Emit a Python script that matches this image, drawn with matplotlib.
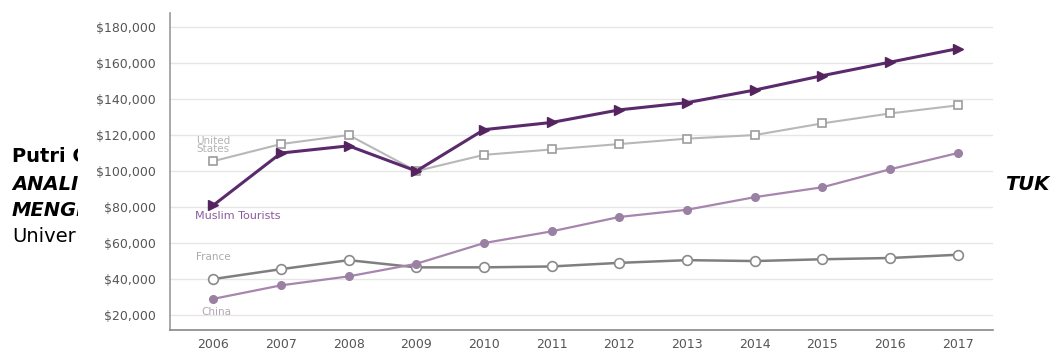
import matplotlib
matplotlib.use("Agg")
import matplotlib.pyplot as plt
from matplotlib.patches import Rectangle

years = [2006, 2007, 2008, 2009, 2010, 2011, 2012, 2013, 2014, 2015, 2016, 2017]
muslim = [81000, 110000, 114000, 100000, 123000, 127000, 134000, 138000, 145000, 153000, 160500, 168000]
usa = [105500, 115000, 120000, 100000, 109000, 112000, 115000, 118000, 120000, 126500, 132000, 136500]
france = [40000, 45500, 50500, 46500, 46500, 47000, 49000, 50500, 50000, 51000, 51700, 53500]
china = [29000, 36500, 41500, 48500, 60000, 66500, 74500, 78500, 85500, 91000, 101000, 110000]
yticks = [20000, 40000, 60000, 80000, 100000, 120000, 140000, 160000, 180000]

W, H = 1053, 353
fig = plt.figure(figsize=(W / 100, H / 100), dpi=100)

# document text lying behind the chart image
doc = dict(color="black", fontsize=14, zorder=1)
fig.text(12 / W, 1 - 157 / H, "Putri C", weight="bold", va="center", **doc)
fig.text(12 / W, 1 - 185 / H, "ANALIS", weight="bold", style="italic", va="center", **doc)
fig.text(12 / W, 1 - 211 / H, "MENGI", weight="bold", style="italic", va="center", **doc)
fig.text(12 / W, 1 - 237 / H, "Univer", va="center", **doc)
fig.text(1005 / W, 1 - 184 / H, "TUK", weight="bold", style="italic", va="center", **doc)

# white background of the pasted chart
fig.patches.append(Rectangle((78 / W, 0), 922 / W, 1, transform=fig.transFigure,
                             facecolor="white", edgecolor="none", zorder=2))

ax = fig.add_axes([170 / W, 23 / H, 823 / W, 317 / H])
ax.set_zorder(3)
ax.patch.set_alpha(0)

ax.plot(years, usa, color="#b8b8b8", lw=1.5, marker="s", ms=6,
        mfc="white", mec="#9c9c9c", mew=1.2, zorder=3)
ax.plot(years, france, color="#7f7f7f", lw=1.8, marker="o", ms=7,
        mfc="white", mec="#8a8a8a", mew=1.2, zorder=3)
ax.plot(years, china, color="#a885ae", lw=1.6, marker="o", ms=5.5,
        mfc="#9a80a2", mec="#9a80a2", zorder=3)
ax.plot(years, muslim, color="#5a2a6c", lw=2.2, marker=">", ms=7,
        mfc="#55245f", mec="#55245f", zorder=4)

ax.text(2006.0, 114500, "United\nStates", color="#b3b3b3", fontsize=7.5,
        ha="center", va="center", linespacing=0.85)
ax.text(2006.36, 75000, "Muslim Tourists", color="#8c5a9c", fontsize=8,
        ha="center", va="center")
ax.text(2006.0, 52500, "France", color="#aaaaaa", fontsize=7.5,
        ha="center", va="center")
ax.text(2006.05, 21500, "China", color="#b4a6b6", fontsize=7.5,
        ha="center", va="center")

ax.set_xlim(2005.36, 2017.52)
ax.set_ylim(11700, 187800)
ax.set_xticks(years)
ax.set_yticks(yticks)
ax.set_yticklabels(["${:,}".format(v) for v in yticks])
ax.tick_params(length=0, labelsize=9, colors="#555555")
ax.tick_params(axis="y", pad=10)
ax.tick_params(axis="x", pad=6)
ax.grid(axis="y", color="#e6e6e6", lw=1)
ax.set_axisbelow(True)
for s in ["top", "right"]:
    ax.spines[s].set_visible(False)
ax.spines["left"].set_color("#9a9a9a")
ax.spines["bottom"].set_color("#888888")
ax.spines["left"].set_linewidth(1.2)
ax.spines["bottom"].set_linewidth(1.2)

fig.savefig("out.png", dpi=100)
